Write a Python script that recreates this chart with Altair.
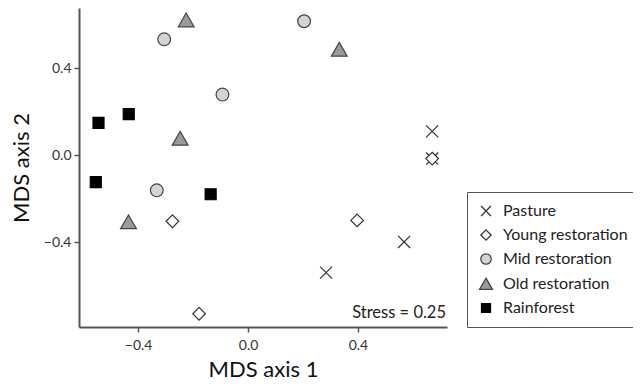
import altair as alt
import pandas as pd

groups = ["Pasture", "Young restoration", "Mid restoration", "Old restoration", "Rainforest"]

pasture_x = [0.670, 0.670, 0.568, 0.284]
pasture_y = [0.110, -0.015, -0.398, -0.539]
young_x = [0.670, -0.275, 0.397, -0.178]
young_y = [-0.015, -0.303, -0.299, -0.728]
mid_x = [0.204, -0.305, -0.093, -0.332]
mid_y = [0.616, 0.533, 0.279, -0.161]
old_x = [-0.225, 0.332, -0.247, -0.435]
old_y = [0.621, 0.486, 0.077, -0.307]
rain_x = [-0.544, -0.434, -0.554, -0.136]
rain_y = [0.149, 0.189, -0.123, -0.179]

x_ticks = [-0.4, 0.0, 0.4]
y_ticks = [-0.4, 0.0, 0.4]
stress_label = "Stress = 0.25"

rows = []
for g, xs, ys in zip(groups,
                     [pasture_x, young_x, mid_x, old_x, rain_x],
                     [pasture_y, young_y, mid_y, old_y, rain_y]):
    for a, b in zip(xs, ys):
        rows.append({"group": g, "x": a, "y": b})
df = pd.DataFrame(rows)

FONT = "Lato"
xdom = [-0.615, 0.724]
ydom = [-0.789, 0.677]

shapes = [
    "M-1.1,-1.1L1.1,1.1M1.1,-1.1L-1.1,1.1",
    "M0,-1.15L1.15,0L0,1.15L-1.15,0Z",
    "M1.16,0A1.16,1.16 0 1,1 -1.16,0A1.16,1.16 0 1,1 1.16,0Z",
    "M0,-1.3L1.44,1.2L-1.44,1.2Z",
    "square",
]
fills = ["transparent", "#ffffff", "#d4d4d4", "#9a9a9a", "#000000"]
strokes = ["#333333", "#333333", "#444444", "#444444", "#000000"]

legend = alt.Legend(
    title=None, orient="none", legendX=388, legendY=184,
    strokeColor="#555555", padding=11, labelFont=FONT, labelFontSize=16,
    labelColor="#222222", symbolSize=80, rowPadding=8, labelOffset=9,
    symbolStrokeWidth=1.3, symbolType="circle", labelLimit=300,
)

points = alt.Chart(df).mark_point(filled=True, size=121, strokeWidth=1.2, opacity=1).encode(
    x=alt.X("x:Q", scale=alt.Scale(domain=xdom, nice=False, zero=False),
            axis=alt.Axis(values=x_ticks, format=".1f", title="MDS axis 1", grid=False)),
    y=alt.Y("y:Q", scale=alt.Scale(domain=ydom, nice=False, zero=False),
            axis=alt.Axis(values=y_ticks, format=".1f", title="MDS axis 2", grid=False)),
    shape=alt.Shape("group:N", sort=groups, scale=alt.Scale(domain=groups, range=shapes), legend=legend),
    fill=alt.Fill("group:N", sort=groups, scale=alt.Scale(domain=groups, range=fills), legend=legend),
    stroke=alt.Stroke("group:N", sort=groups, scale=alt.Scale(domain=groups, range=strokes), legend=legend),
)

stress = alt.Chart(pd.DataFrame({"t": [stress_label]})).mark_text(
    align="right", baseline="middle", font=FONT, fontSize=16.5, color="#222222"
).encode(
    text="t:N",
    x=alt.value(367),
    y=alt.value(305),
)

chart = alt.layer(points, stress).properties(
    width=368, height=319,
    padding={"left": 71, "top": 0, "right": 186, "bottom": 55},
    autosize=alt.AutoSizeParams(type="none"),
).configure_view(stroke=None).configure_axis(
    domainColor="#555555", domainWidth=2, tickColor="#555555", tickWidth=1.5, tickSize=5,
    labelFont=FONT, labelFontSize=14, labelColor="#333333",
    titleFont=FONT, titleFontSize=22, titleFontWeight="normal", titleColor="#111111",
).configure_axisX(titlePadding=7, labelPadding=6).configure_axisY(titlePadding=10, labelPadding=3)

chart.save("out.html", embed_options={"renderer": "svg", "actions": False})
